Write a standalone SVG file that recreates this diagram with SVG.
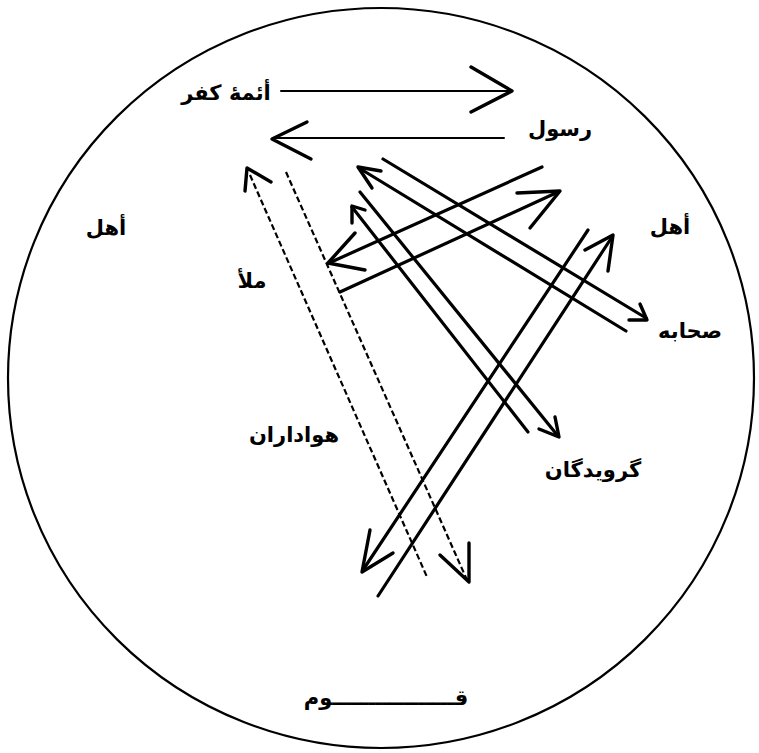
<svg xmlns="http://www.w3.org/2000/svg" width="759" height="753" viewBox="0 0 759 753">
<style>
.bg{fill:#fff}
.frame{fill:none;stroke:#000;stroke-width:2.2}
.thin{fill:none;stroke:#000;stroke-width:2;stroke-linecap:round}
.solid{fill:none;stroke:#000;stroke-width:3.2;stroke-linecap:round}
.dash{fill:none;stroke:#000;stroke-width:2.2;stroke-dasharray:6 3}
.head{fill:none;stroke:#000;stroke-width:3.4;stroke-linecap:round;stroke-linejoin:round}
.lbl{font-family:"DejaVu Sans",sans-serif;font-weight:bold;font-size:21px;fill:#000;text-anchor:middle}
</style>
<rect class="bg" width="759" height="753"/>
<ellipse id="qawm-circle" class="frame" cx="381" cy="378" rx="373" ry="370"/>

<g id="connectors">
  <!-- أئمه کفر -> رسول -->
  <line class="thin" x1="281" y1="91" x2="511" y2="91"/>
  <polyline class="head" points="471,67 512,91 471,112"/>
  <!-- رسول -> أئمه کفر -->
  <line class="thin" x1="504" y1="138" x2="274" y2="138"/>
  <polyline class="head" points="307,122 272,139 311,159"/>

  <!-- هواداران dashed up -->
  <line class="dash" x1="250" y1="175" x2="427" y2="577"/>
  <polyline class="head" points="245,191 247,168 271,182"/>
  <!-- هواداران dashed down -->
  <line class="dash" x1="286" y1="172" x2="467" y2="580"/>
  <polyline class="head" points="440,555 469,582 469,543"/>

  <!-- to ملأ -->
  <line class="solid" x1="542" y1="167" x2="329" y2="263"/>
  <polyline class="head" points="355,233 328,263 365,270"/>
  <!-- from ملأ -->
  <line class="solid" x1="340" y1="292" x2="558" y2="192"/>
  <polyline class="head" points="517,193 560,191 530,228"/>

  <!-- صحابه up-left -->
  <line class="solid" x1="626" y1="331" x2="359" y2="168"/>
  <polyline class="head" points="381,171 358,167 372,188"/>
  <!-- to صحابه -->
  <line class="solid" x1="383" y1="159" x2="646" y2="318"/>
  <polyline class="head" points="640,304 647,320 629,320"/>

  <!-- گرویدگان up-left -->
  <line class="solid" x1="528" y1="432" x2="352" y2="207"/>
  <polyline class="head" points="365,210 352,206 352,223"/>
  <!-- to گرویدگان -->
  <line class="solid" x1="360" y1="192" x2="558" y2="436"/>
  <polyline class="head" points="555,417 559,437 539,429"/>

  <!-- down-left to قوم -->
  <line class="solid" x1="588" y1="230" x2="363" y2="570"/>
  <polyline class="head" points="370,530 362,572 393,553"/>
  <!-- up-right from قوم -->
  <line class="solid" x1="378" y1="596" x2="612" y2="237"/>
  <polyline class="head" points="585,250 613,235 608,271"/>
</g>

<g id="node-aemme-kofr"><text class="lbl" x="226" y="100">أئمهٔ کفر</text></g>
<g id="node-rasul"><text class="lbl" x="560" y="136">رسول</text></g>
<g id="node-ahl-left"><text class="lbl" x="106" y="235">أهل</text></g>
<g id="node-ahl-right"><text class="lbl" x="670" y="234">أهل</text></g>
<g id="node-mala"><text class="lbl" x="252" y="288">ملأ</text></g>
<g id="node-sahabe"><text class="lbl" x="690" y="338">صحابه</text></g>
<g id="node-havadaran"><text class="lbl" x="294" y="442">هواداران</text></g>
<g id="node-gerevidegan"><text class="lbl" x="593" y="477">گرویدگان</text></g>
<g id="node-qawm"><text class="lbl" x="386" y="705">قـــــــــــــــــوم</text></g>
</svg>
